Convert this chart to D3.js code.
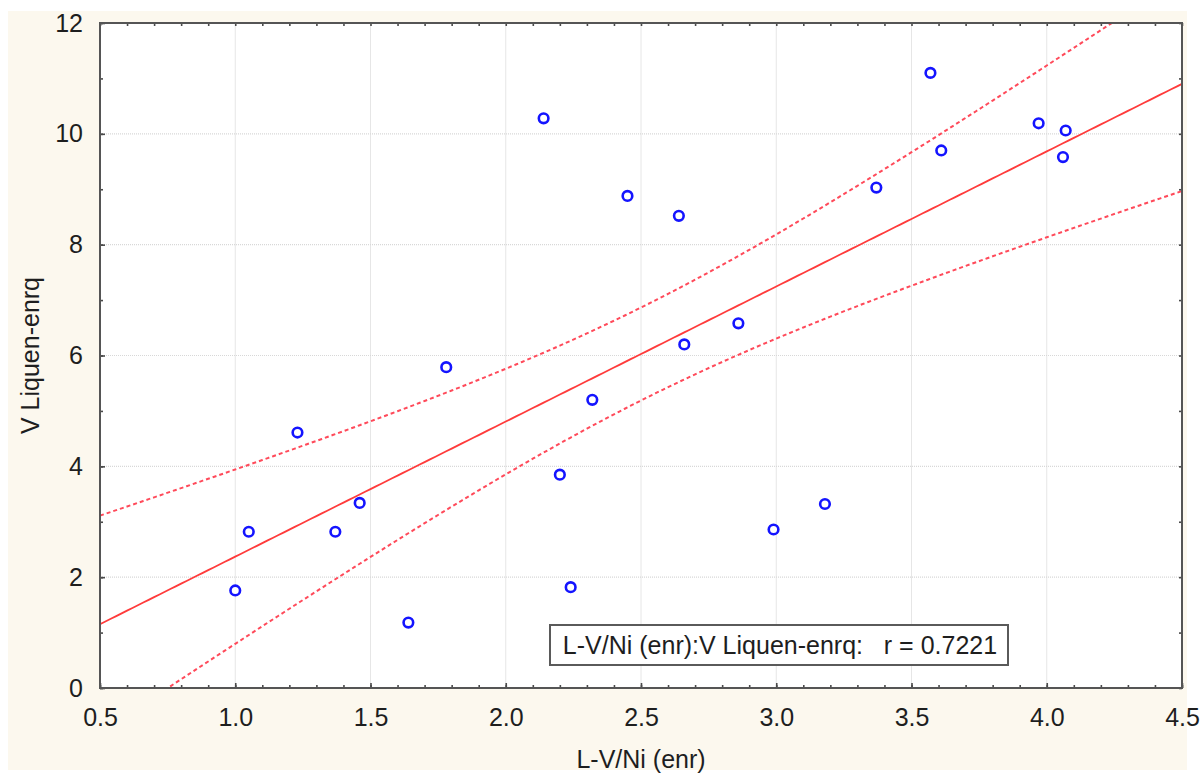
<!DOCTYPE html>
<html>
<head>
<meta charset="utf-8">
<script src="https://cdn.jsdelivr.net/npm/d3@7"></script>
<style>
  body { margin: 0; background: #ffffff; }
  svg { display: block; }
  text { font-family: "Liberation Sans", Arial, sans-serif; fill: #1e1e1e; }
</style>
</head>
<body>
<svg id="chart" width="1200" height="774"></svg>
<script>
// Sample observations: L-V/Ni (enr) against V Liquen-enrq
const xValues = [1.00, 1.05, 1.23, 1.37, 1.46, 1.64, 1.78, 2.14, 2.20, 2.24, 2.32, 2.45,
                 2.64, 2.66, 2.86, 2.99, 3.18, 3.37, 3.57, 3.61, 3.97, 4.07, 4.06];
const yValues = [1.76, 2.82, 4.61, 2.82, 3.34, 1.18, 5.79, 10.28, 3.85, 1.82, 5.20, 8.88,
                 8.52, 6.20, 6.58, 2.86, 3.32, 9.03, 11.10, 9.70, 10.19, 10.06, 9.58];

const xTickValues = [0.5, 1.0, 1.5, 2.0, 2.5, 3.0, 3.5, 4.0, 4.5];
const xTickLabels = ["0.5", "1.0", "1.5", "2.0", "2.5", "3.0", "3.5", "4.0", "4.5"];
const yTickValues = [0, 2, 4, 6, 8, 10, 12];
const yTickLabels = ["0", "2", "4", "6", "8", "10", "12"];

const xTitle = "L-V/Ni (enr)";
const yTitle = "V Liquen-enrq";
const corrLabel = "L-V/Ni (enr):V Liquen-enrq:   r = 0.7221";

// Student t multiplier for the confidence band around the fitted line
const bandT = 1.721;

const W = 1200, H = 774;
const plot = { left: 100, top: 23, right: 1182, bottom: 688 };
const FONT = 25;

const svg = d3.select("#chart");

// Page and panel backgrounds
svg.append("rect").attr("x", 0).attr("y", 0).attr("width", W).attr("height", H).attr("fill", "#ffffff");
svg.append("rect").attr("x", 8).attr("y", 11).attr("width", 1179).attr("height", 759).attr("fill", "#fcf8ee");
svg.append("rect")
  .attr("x", plot.left).attr("y", plot.top)
  .attr("width", plot.right - plot.left).attr("height", plot.bottom - plot.top)
  .attr("fill", "#ffffff");

const x = d3.scaleLinear().domain([0.5, 4.5]).range([plot.left, plot.right]);
const y = d3.scaleLinear().domain([0, 12]).range([plot.bottom, plot.top]);

// Grid
const grid = svg.append("g");
grid.selectAll("line.vx")
  .data(xTickValues.slice(1, -1))
  .join("line")
  .attr("x1", d => x(d)).attr("x2", d => x(d))
  .attr("y1", plot.top).attr("y2", plot.bottom)
  .attr("stroke", "#e6e6e6").attr("stroke-width", 1);
grid.selectAll("line.hy")
  .data(yTickValues.slice(1, -1))
  .join("line")
  .attr("y1", d => y(d)).attr("y2", d => y(d))
  .attr("x1", plot.left).attr("x2", plot.right)
  .attr("stroke", "#d8d8d8").attr("stroke-width", 1.2)
  .attr("stroke-dasharray", "1,1");

// Regression fit computed from the observations
const n = xValues.length;
const mx = d3.mean(xValues), my = d3.mean(yValues);
let sxx = 0, sxy = 0;
for (let i = 0; i < n; i++) {
  sxx += (xValues[i] - mx) ** 2;
  sxy += (xValues[i] - mx) * (yValues[i] - my);
}
const slope = sxy / sxx;
const intercept = my - slope * mx;
let sse = 0;
for (let i = 0; i < n; i++) sse += (yValues[i] - (intercept + slope * xValues[i])) ** 2;
const se = Math.sqrt(sse / (n - 2));
const fit = v => intercept + slope * v;
const half = v => bandT * se * Math.sqrt(1 / n + (v - mx) ** 2 / sxx);

const xs = d3.range(0, 201).map(i => 0.5 + i * 4 / 200);

svg.append("clipPath").attr("id", "plotClip")
  .append("rect")
  .attr("x", plot.left).attr("y", plot.top)
  .attr("width", plot.right - plot.left).attr("height", plot.bottom - plot.top);

const fitLayer = svg.append("g").attr("clip-path", "url(#plotClip)");
const line = d3.line().x(d => x(d[0])).y(d => y(d[1]));

fitLayer.append("path")
  .datum(xs.map(v => [v, fit(v) + half(v)]))
  .attr("d", line).attr("fill", "none")
  .attr("stroke", "#ff4a5a").attr("stroke-width", 2).attr("stroke-dasharray", "4,3");
fitLayer.append("path")
  .datum(xs.map(v => [v, fit(v) - half(v)]))
  .attr("d", line).attr("fill", "none")
  .attr("stroke", "#ff4a5a").attr("stroke-width", 2).attr("stroke-dasharray", "4,3");
fitLayer.append("path")
  .datum(xs.map(v => [v, fit(v)]))
  .attr("d", line).attr("fill", "none")
  .attr("stroke", "#ff3b3b").attr("stroke-width", 1.8);

// Points
svg.append("g").selectAll("circle")
  .data(xValues.map((v, i) => [v, yValues[i]]))
  .join("circle")
  .attr("cx", d => x(d[0])).attr("cy", d => y(d[1]))
  .attr("r", 4.8)
  .attr("fill", "#ffffff")
  .attr("stroke", "#1414ff").attr("stroke-width", 2.6);

// Axes: inward ticks on all four sides, labels on bottom and left
const xMinor = d3.range(5, 46).map(i => i / 10);
const yMinor = d3.range(0, 13);

function tickAxis(axisFn, scale, values, size, transform) {
  const g = svg.append("g").attr("transform", transform)
    .call(axisFn(scale).tickValues(values).tickSize(size).tickSizeOuter(0).tickFormat(""));
  g.select(".domain").remove();
  g.selectAll(".tick line").attr("stroke", "#4a4a4a").attr("stroke-width", 1.6);
  return g;
}
tickAxis(d3.axisBottom, x, xMinor, -3, `translate(0,${plot.bottom})`);
tickAxis(d3.axisTop, x, xMinor, -3, `translate(0,${plot.top})`);
tickAxis(d3.axisLeft, y, yMinor, -3, `translate(${plot.left},0)`);
tickAxis(d3.axisRight, y, yMinor, -3, `translate(${plot.right},0)`);

const xAxis = svg.append("g").attr("transform", `translate(0,${plot.bottom})`)
  .call(d3.axisBottom(x).tickValues(xTickValues).tickSize(-5).tickSizeOuter(0).tickPadding(20)
    .tickFormat((d, i) => xTickLabels[i]));
xAxis.select(".domain").remove();
xAxis.selectAll(".tick line").attr("stroke", "#4a4a4a").attr("stroke-width", 1.6);
xAxis.selectAll(".tick text").attr("font-size", FONT).attr("fill", "#1e1e1e")
  .style("font-family", "'Liberation Sans', Arial, sans-serif");

const yAxis = svg.append("g").attr("transform", `translate(${plot.left},0)`)
  .call(d3.axisLeft(y).tickValues(yTickValues).tickSize(-5).tickSizeOuter(0).tickPadding(17)
    .tickFormat((d, i) => yTickLabels[i]));
yAxis.select(".domain").remove();
yAxis.selectAll(".tick line").attr("stroke", "#4a4a4a").attr("stroke-width", 1.6);
yAxis.selectAll(".tick text").attr("font-size", FONT).attr("fill", "#1e1e1e")
  .style("font-family", "'Liberation Sans', Arial, sans-serif");

// Frame
svg.append("rect")
  .attr("x", plot.left).attr("y", plot.top)
  .attr("width", plot.right - plot.left).attr("height", plot.bottom - plot.top)
  .attr("fill", "none").attr("stroke", "#555555").attr("stroke-width", 2);

// Axis titles
svg.append("text")
  .attr("x", (plot.left + plot.right) / 2).attr("y", 768)
  .attr("text-anchor", "middle").attr("font-size", FONT)
  .text(xTitle);
svg.append("text")
  .attr("transform", `translate(39,${(plot.top + plot.bottom) / 2}) rotate(-90)`)
  .attr("text-anchor", "middle").attr("font-size", FONT)
  .text(yTitle);

// Correlation box
const box = svg.append("g");
box.append("rect")
  .attr("x", 550).attr("y", 625).attr("width", 458).attr("height", 40)
  .attr("fill", "#ffffff").attr("stroke", "#5a5a5a").attr("stroke-width", 2);
box.append("text")
  .attr("x", 780).attr("y", 654)
  .attr("text-anchor", "middle").attr("font-size", FONT)
  .style("white-space", "pre")
  .text(corrLabel);
</script>
</body>
</html>
